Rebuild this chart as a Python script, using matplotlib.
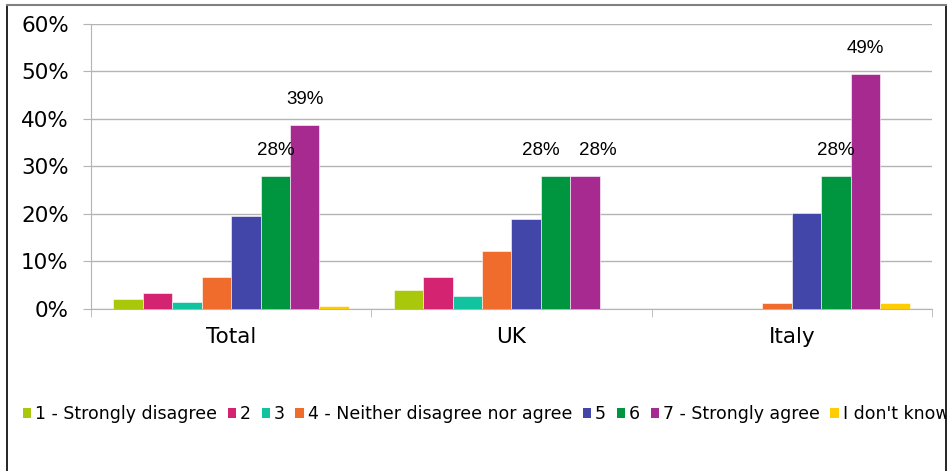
import numpy as np
import matplotlib.pyplot as plt
from matplotlib.patches import Patch, Rectangle
from matplotlib.lines import Line2D

# Agreement scores by country, share of respondents (%)
categories = ["Total", "UK", "Italy"]
series_names = ["1 - Strongly disagree", "2", "3", "4 - Neither disagree nor agree",
                "5", "6", "7 - Strongly agree", "I don't know"]
values = [
    [2.1, 4.0, 0.0],     # 1
    [3.4, 6.7, 0.0],     # 2
    [1.4, 2.7, 0.0],     # 3
    [6.7, 12.2, 1.3],    # 4
    [19.5, 18.9, 20.1],  # 5
    [28.0, 28.0, 28.0],  # 6
    [38.7, 28.0, 49.4],  # 7
    [0.6, 0.0, 1.3],     # don't know
]
labelled = [5, 6]  # series that carry data labels
colors = ["#a9c80c", "#d42471", "#12c3a0", "#ef6c2d",
          "#4146a8", "#009640", "#a72a91", "#ffcc00"]

fig = plt.figure(figsize=(9.53, 4.71), dpi=100)
ax = fig.add_axes([91/953, 1 - 309/471, (932 - 91)/953, (309 - 23.5)/471])

x = np.arange(len(categories))
w = 0.105
for i, (name, vals) in enumerate(zip(series_names, values)):
    pos = x + (i - 3.5) * w
    bars = ax.bar(pos, vals, w, color=colors[i], edgecolor="white",
                  linewidth=0.4, label=name, zorder=3)
    if i in labelled:
        for j, (b, v) in enumerate(zip(bars, vals)):
            # spread the two labels apart when the bars are equal height
            dx = 0
            if values[5][j] == values[6][j]:
                dx = -11 if i == 5 else 9
            ax.annotate(f"{v:.0f}%", (b.get_x() + b.get_width() / 2, v),
                        xytext=(dx, 12), textcoords="offset points",
                        ha="center", va="bottom", fontsize=13.5,
                        family="Liberation Sans", zorder=4)

ax.set_xlim(-0.5, 2.5)
ax.set_ylim(0, 60)
ax.set_yticks(range(0, 61, 10))
ax.set_yticklabels([f"{t}%" for t in range(0, 61, 10)], fontsize=15.5)
ax.yaxis.grid(True, color="#b4b4b4", linewidth=1, zorder=0)
ax.tick_params(axis="y", length=6, color="#b4b4b4", pad=10)

ax.set_xticks(x)
ax.set_xticklabels(categories, fontsize=15.5)
ax.set_xticks([-0.5, 0.5, 1.5, 2.5], minor=True)
ax.tick_params(axis="x", which="major", length=0, pad=13)
ax.tick_params(axis="x", which="minor", length=6, color="#b4b4b4")

for s in ["top", "right"]:
    ax.spines[s].set_visible(False)
for s in ["left", "bottom"]:
    ax.spines[s].set_color("#b4b4b4")

handles = [Patch(facecolor=c, edgecolor="none") for c in colors]
leg = fig.legend(handles, series_names, loc="center left",
                 bbox_to_anchor=(14/953, 1 - 414/471), ncol=8, frameon=False,
                 fontsize=12.5, handlelength=0.5, handleheight=0.5,
                 handletextpad=0.2, columnspacing=0.62, borderpad=0)
# the legend runs past the chart frame, clip it there
clip = Rectangle((7/953, 0), (946 - 7)/953, 1, transform=fig.transFigure)
for t in leg.get_texts():
    t.set_clip_path(clip)

# outer chart frame
fig.add_artist(Line2D([7/953, 7/953], [0, 1 - 5/471], color="black", lw=1.2))
fig.add_artist(Line2D([946/953, 946/953], [0, 1 - 5/471], color="black", lw=1.2))
fig.add_artist(Line2D([7/953, 946/953], [1 - 5/471, 1 - 5/471], color="#808080", lw=1.5))

fig.savefig("out.png", dpi=100)
